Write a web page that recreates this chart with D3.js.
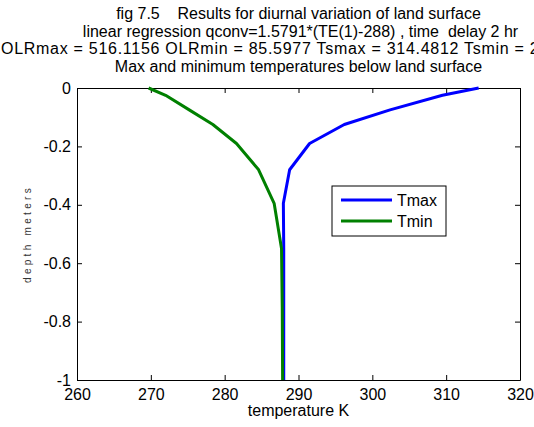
<!DOCTYPE html>
<html>
<head>
<meta charset="utf-8">
<script src="https://cdn.jsdelivr.net/npm/d3@7"></script>
<style>
  body { margin: 0; background: #fff; }
  svg { display: block; font-family: "Liberation Sans", Arial, sans-serif; }
</style>
</head>
<body>
<script>
// depth levels (m) and the max / min temperature profiles (K)
const depth = [0, -0.025, -0.075, -0.125, -0.19, -0.28, -0.395, -0.55, -0.75, -1]
const tmax = [314.4, 309.5, 302.4, 296.2, 291.5, 288.8, 287.95, 288.0, 288.0, 288.0]
const tmin = [269.7, 272.0, 275.2, 278.4, 281.6, 284.6, 286.7, 287.7, 287.8, 287.85]

const seriesNames = ['Tmax', 'Tmin']
const seriesColors = ['#0000ff', '#008000']

const xTicks = [260, 270, 280, 290, 300, 310, 320]
const yTicks = [0, -0.2, -0.4, -0.6, -0.8, -1]

const titleLines = [
  'fig 7.5    Results for diurnal variation of land surface',
  'linear regression qconv=1.5791*(TE(1)-288) , time  delay 2 hr',
  'OLRmax = 516.1156 OLRmin = 85.5977 Tsmax = 314.4812 Tsmin = 269.6623',
  'Max and minimum temperatures below land surface'
]

const W = 534, H = 427
const margin = {top: 88, right: 14, bottom: 47, left: 77}
const width = W - margin.left - margin.right
const height = H - margin.top - margin.bottom

const svg = d3.select('body').append('svg')
  .attr('width', W)
  .attr('height', H)

const g = svg.append('g')
  .attr('transform', `translate(${margin.left},${margin.top})`)

const xScale = d3.scaleLinear().domain([260, 320]).range([0, width])
const yScale = d3.scaleLinear().domain([-1, 0]).range([height, 0])

const fmt = (d) => String(+d.toFixed(1))

// axes, ticks pointing inward like matlab, box on all sides
const xAxis = d3.axisBottom(xScale).tickValues(xTicks).tickFormat(fmt).tickSizeInner(-5).tickSizeOuter(0).tickPadding(6)
const xTop = d3.axisTop(xScale).tickValues(xTicks).tickFormat('').tickSizeInner(-5).tickSizeOuter(0)
const yAxis = d3.axisLeft(yScale).tickValues(yTicks).tickFormat(fmt).tickSizeInner(-5).tickSizeOuter(0).tickPadding(6)
const yRight = d3.axisRight(yScale).tickValues(yTicks).tickFormat('').tickSizeInner(-5).tickSizeOuter(0)

const gx = g.append('g').attr('transform', `translate(0,${height})`).call(xAxis)
g.append('g').call(xTop)
const gy = g.append('g').call(yAxis)
g.append('g').attr('transform', `translate(${width},0)`).call(yRight)

g.selectAll('.domain').attr('stroke', '#000').attr('stroke-width', 1)
g.selectAll('.tick line').attr('stroke', '#000')
g.selectAll('.tick text').attr('fill', '#000').attr('font-size', 16)
  .attr('font-family', '"Liberation Sans", Arial, sans-serif')
gx.selectAll('.tick text').attr('dy', '0.85em')

// profiles
const line = d3.line()
  .x((d) => xScale(d[0]))
  .y((d) => yScale(d[1]))

const series = [tmax, tmin].map((vals, i) => ({
  name: seriesNames[i],
  color: seriesColors[i],
  pts: vals.map((t, j) => [t, depth[j]])
}))

g.selectAll('path.profile').data(series).join('path')
  .attr('class', 'profile')
  .attr('fill', 'none')
  .attr('stroke', (d) => d.color)
  .attr('stroke-width', 3)
  .attr('stroke-linejoin', 'round')
  .attr('d', (d) => line(d.pts))

// legend
const lg = g.append('g').attr('transform', `translate(${332 - margin.left},${186 - margin.top})`)
lg.append('rect').attr('width', 114).attr('height', 50)
  .attr('fill', '#fff').attr('stroke', '#000')
const item = lg.selectAll('g.item').data(series).join('g')
  .attr('class', 'item')
  .attr('transform', (d, i) => `translate(0,${14 + i * 21})`)
item.append('line').attr('x1', 9).attr('x2', 60)
  .attr('stroke', (d) => d.color).attr('stroke-width', 3)
item.append('text').attr('x', 65).attr('dy', '0.35em')
  .attr('font-size', 16).text((d) => d.name)

// titles (third line is wider than the figure and runs off it, as in the original)
svg.append('g').selectAll('text').data(titleLines).join('text')
  .attr('x', (d, i) => i === 2 ? 1 : margin.left + width / 2 + (i === 1 ? 2 : 0))
  .attr('y', (d, i) => 19 + i * 17.5)
  .attr('text-anchor', (d, i) => i === 2 ? 'start' : 'middle')
  .attr('letter-spacing', (d, i) => i === 2 ? 0.72 : 0)
  .attr('font-size', 16)
  .attr('xml:space', 'preserve')
  .style('white-space', 'pre')
  .text((d) => d)

svg.append('text')
  .attr('x', margin.left + width / 2)
  .attr('y', 416)
  .attr('text-anchor', 'middle')
  .attr('font-size', 16)
  .text('temperature K')

svg.append('text')
  .attr('transform', `translate(31,${margin.top + height / 2}) rotate(-90)`)
  .attr('text-anchor', 'middle')
  .attr('font-size', 10)
  .attr('letter-spacing', 3.3)
  .attr('fill', '#333')
  .text('depth meters')
</script>
</body>
</html>
